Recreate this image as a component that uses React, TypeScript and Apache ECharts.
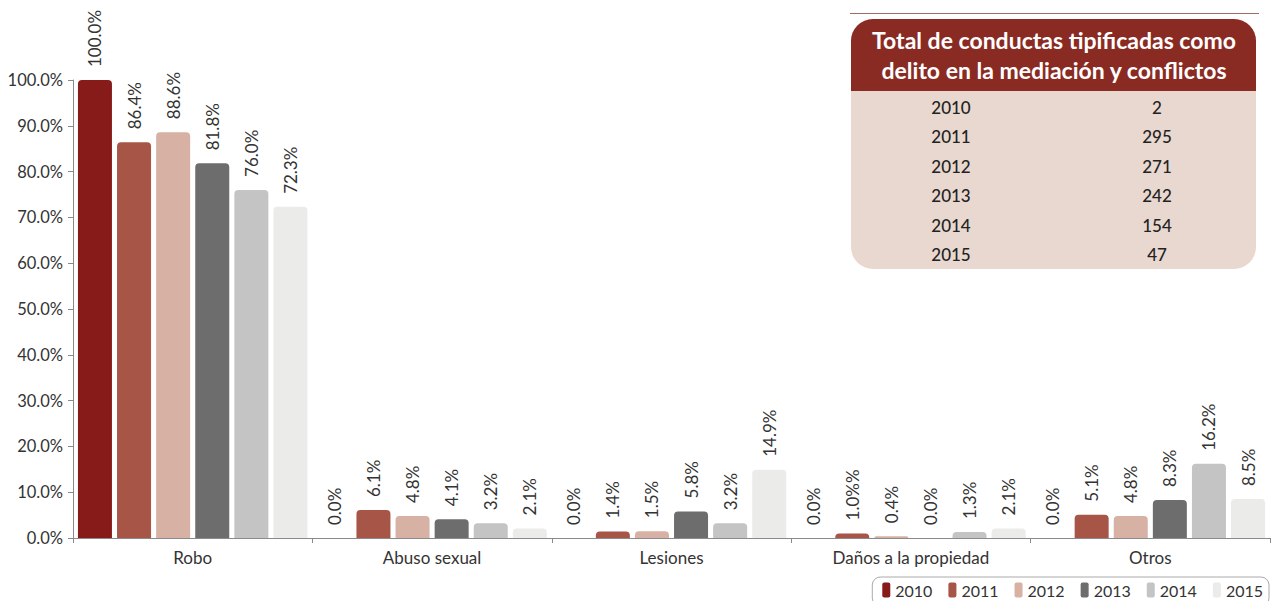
import React, { useEffect, useRef } from 'react';
import * as echarts from 'echarts';

const categories = ['Robo', 'Abuso sexual', 'Lesiones', 'Daños a la propiedad', 'Otros'];
const years = ['2010', '2011', '2012', '2013', '2014', '2015'];
const v2010 = [100.0, 0.0, 0.0, 0.0, 0.0];
const v2011 = [86.4, 6.1, 1.4, 1.0, 5.1];
const v2012 = [88.6, 4.8, 1.5, 0.4, 4.8];
const v2013 = [81.8, 4.1, 5.8, 0.0, 8.3];
const v2014 = [76.0, 3.2, 3.2, 1.3, 16.2];
const v2015 = [72.3, 2.1, 14.9, 2.1, 8.5];
const seriesValues = [v2010, v2011, v2012, v2013, v2014, v2015];
// label text exactly as printed (one label in the source reads "1.0%%")
const l2011 = ['86.4%', '6.1%', '1.4%', '1.0%%', '5.1%'];
const yearColors = ['#861b19', '#a65546', '#d7b1a3', '#6d6d6d', '#c4c4c4', '#ebebea'];

const tableTitle = ['Total de conductas tipificadas como', 'delito en la mediación y conflictos'];
const tableYears = ['2010', '2011', '2012', '2013', '2014', '2015'];
const tableTotals = ['2', '295', '271', '242', '154', '47'];

const FONT = 'Lato, "Open Sans", sans-serif';

export default function App() {
  const ref = useRef<HTMLDivElement>(null);
  useEffect(() => {
    if (!ref.current) return;
    const chart = echarts.init(ref.current, undefined, { renderer: 'svg' });

    const series = years.map((y, i) => ({
      name: y,
      type: 'bar',
      data: seriesValues[i],
      barWidth: 34,
      barGap: '15%',
      itemStyle: { color: yearColors[i], borderRadius: [4, 4, 0, 0] },
      label: {
        show: true,
        position: 'top',
        rotate: 90,
        align: 'left',
        verticalAlign: 'middle',
        distance: 13,
        color: '#333',
        fontSize: 17,
        fontFamily: FONT,
        formatter: (p: any) =>
          y === '2011' ? l2011[p.dataIndex] : Number(p.value).toFixed(1) + '%',
      },
    }));

    const graphic: any[] = [
      { type: 'line', shape: { x1: 850, y1: 13.5, x2: 1259, y2: 13.5 }, style: { stroke: '#a06a60', lineWidth: 1 } },
      { type: 'rect', shape: { x: 851, y: 19, width: 405, height: 250, r: 22 }, style: { fill: '#e9d8cf' } },
      { type: 'rect', shape: { x: 851, y: 19, width: 405, height: 72, r: [22, 22, 0, 0] }, style: { fill: '#8a2b23' } },
    ];
    tableTitle.forEach((t, i) => {
      graphic.push({
        type: 'text',
        x: 1054,
        y: 40 + i * 30,
        style: {
          text: t,
          fill: '#ffffff',
          font: `bold 23px ${FONT}`,
          textAlign: 'center',
          textVerticalAlign: 'middle',
        },
      });
    });
    tableYears.forEach((yr, i) => {
      graphic.push({
        type: 'text',
        x: 951,
        y: 107.5 + i * 29.4,
        style: { text: yr, fill: '#222', font: `500 17px ${FONT}`, textAlign: 'center', textVerticalAlign: 'middle' },
      });
      graphic.push({
        type: 'text',
        x: 1157,
        y: 107.5 + i * 29.4,
        style: { text: tableTotals[i], fill: '#222', font: `500 17px ${FONT}`, textAlign: 'center', textVerticalAlign: 'middle' },
      });
    });

    chart.setOption({
      animation: false,
      textStyle: { fontFamily: FONT },
      grid: { left: 73, right: 3, top: 80, bottom: 63, containLabel: false },
      legend: {
        data: years,
        right: 4,
        top: 577,
        icon: 'roundRect',
        itemWidth: 8,
        itemHeight: 15,
        itemGap: 16,
        padding: [5, 6, 8, 10],
        borderColor: '#aaa',
        borderWidth: 1,
        borderRadius: 8,
        textStyle: { fontSize: 16, color: '#333', fontFamily: FONT },
      },
      xAxis: {
        type: 'category',
        data: categories,
        axisLine: { lineStyle: { color: '#8a8a8a' } },
        axisTick: { show: true, length: 5, lineStyle: { color: '#8a8a8a' } },
        axisLabel: { color: '#333', fontSize: 17, margin: 11, fontFamily: FONT },
      },
      yAxis: {
        type: 'value',
        min: 0,
        max: 100,
        interval: 10,
        splitLine: { show: false },
        axisLine: { show: true, lineStyle: { color: '#8a8a8a' } },
        axisTick: { show: true, length: 5, lineStyle: { color: '#8a8a8a' } },
        axisLabel: {
          color: '#333',
          fontSize: 16.5,
          margin: 10,
          fontFamily: FONT,
          formatter: (v: number) => v.toFixed(1) + '%',
        },
      },
      graphic,
      series,
    } as any);

    return () => chart.dispose();
  }, []);

  return (
    <div
      ref={ref}
      style={{ position: 'fixed', left: 0, top: 0, width: 1273, height: 601, background: '#fff' }}
    />
  );
}
